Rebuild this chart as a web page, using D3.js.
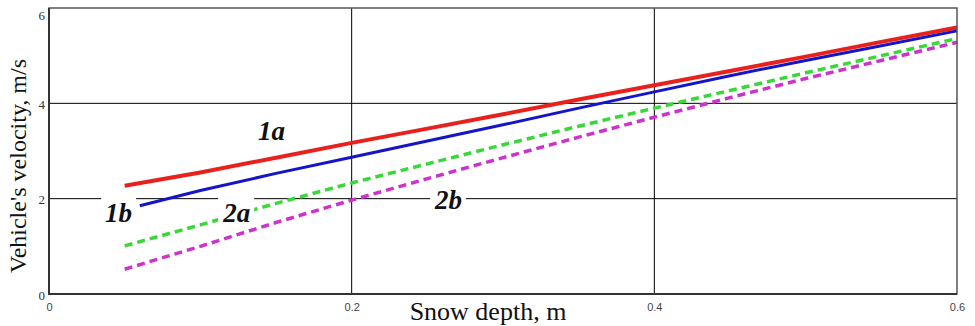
<!DOCTYPE html>
<html>
<head>
    <meta charset="utf-8" />
    <script src="https://cdn.jsdelivr.net/npm/d3@7/dist/d3.min.js"></script>
    <style>
        body { margin: 0; background: #fff; }
        .tick-label text { font-family: "Liberation Serif", serif; font-size: 13px; fill: #333; }
        .x-ticks text { font-family: "Liberation Sans", sans-serif; font-size: 11px; fill: #444; }
        .title { font-family: "Liberation Serif", serif; font-size: 24px; fill: #111; }
        .curve-label { font-family: "Liberation Serif", serif; font-size: 27px; font-weight: bold; font-style: italic; fill: #111; }
    </style>
</head>
<body>
<div id="vis"></div>
<script>
    // snow depth, m
    var depth = [0.05, 0.1, 0.15, 0.2, 0.25, 0.3, 0.35, 0.4, 0.45, 0.5, 0.55, 0.6];
    var depth1b = [0.06, 0.1, 0.15, 0.2, 0.25, 0.3, 0.35, 0.4, 0.45, 0.5, 0.55, 0.6];

    // vehicle's velocity, m/s
    var speed1a = [2.27, 2.55, 2.86, 3.17, 3.47, 3.77, 4.08, 4.38, 4.68, 4.98, 5.29, 5.59];
    var speed1b = [1.85, 2.17, 2.53, 2.87, 3.21, 3.55, 3.90, 4.24, 4.58, 4.90, 5.21, 5.52];
    var speed2a = [1.01, 1.45, 1.90, 2.33, 2.73, 3.13, 3.52, 3.90, 4.27, 4.64, 5.00, 5.36];
    var speed2b = [0.52, 1.00, 1.50, 1.97, 2.42, 2.86, 3.29, 3.71, 4.12, 4.52, 4.90, 5.28];

    var xTicks = [0, 0.2, 0.4, 0.6];
    var yTicks = [0, 2, 4, 6];
    var xGrid = [0.2, 0.4];
    var yGrid = [2, 4];

    var labelNames = ["1a", "1b", "2a", "2b"];
    var labelDepth = [0.147, 0.046, 0.124, 0.264];
    var labelSpeed = [3.42, 1.70, 1.70, 1.97];

    var width = 975,
        height = 326;

    var margin = { left: 49, right: 18, top: 8, bottom: 32 };

    var x = d3.scaleLinear()
        .domain([0, 0.6])
        .range([margin.left, width - margin.right]);

    var y = d3.scaleLinear()
        .domain([0, 6])
        .range([height - margin.bottom, margin.top]);

    var svg = d3.select("#vis").append("svg")
        .attr("width", width)
        .attr("height", height);

    // grid
    svg.append("g")
        .selectAll("line")
        .data(xGrid)
        .enter().append("line")
        .attr("x1", function(d) { return x(d); })
        .attr("x2", function(d) { return x(d); })
        .attr("y1", y(0))
        .attr("y2", y(6))
        .attr("stroke", "#000")
        .attr("stroke-width", 1);

    svg.append("g")
        .selectAll("line")
        .data(yGrid)
        .enter().append("line")
        .attr("x1", x(0))
        .attr("x2", x(0.6))
        .attr("y1", function(d) { return y(d); })
        .attr("y2", function(d) { return y(d); })
        .attr("stroke", "#000")
        .attr("stroke-width", 1);

    // curves
    var series = [
        { xs: depth, ys: speed1a, color: "#e8211c", w: 4, dash: null },
        { xs: depth1b, ys: speed1b, color: "#1414c8", w: 3, dash: null },
        { xs: depth, ys: speed2a, color: "#36d936", w: 3.5, dash: "8,5" },
        { xs: depth, ys: speed2b, color: "#cc33cc", w: 3.5, dash: "8,5" }
    ];

    var line = d3.line()
        .x(function(d) { return x(d[0]); })
        .y(function(d) { return y(d[1]); });

    svg.append("g")
        .selectAll("path")
        .data(series)
        .enter().append("path")
        .attr("d", function(s) { return line(d3.zip(s.xs, s.ys)); })
        .attr("fill", "none")
        .attr("stroke", function(s) { return s.color; })
        .attr("stroke-width", function(s) { return s.w; })
        .attr("stroke-dasharray", function(s) { return s.dash; });

    // curve labels with white background
    var labels = svg.append("g")
        .selectAll("g")
        .data(labelNames)
        .enter().append("g")
        .attr("transform", function(d, i) {
            return "translate(" + x(labelDepth[i]) + "," + y(labelSpeed[i]) + ")";
        });

    labels.append("text")
        .attr("class", "curve-label")
        .attr("text-anchor", "middle")
        .attr("dy", "0.33em")
        .text(function(d) { return d; });

    labels.each(function() {
        var g = d3.select(this);
        var b = g.select("text").node().getBBox();
        g.insert("rect", "text")
            .attr("x", b.x - 4)
            .attr("y", b.y)
            .attr("width", b.width + 8)
            .attr("height", b.height)
            .attr("fill", "#fff");
    });

    // frame
    svg.append("rect")
        .attr("x", x(0))
        .attr("y", y(6))
        .attr("width", x(0.6) - x(0))
        .attr("height", y(0) - y(6))
        .attr("fill", "none")
        .attr("stroke", "#555")
        .attr("stroke-width", 1.5);

    svg.append("path")
        .attr("d", "M" + x(0) + "," + y(6) + "V" + y(0) + "H" + x(0.6))
        .attr("fill", "none")
        .attr("stroke", "#333")
        .attr("stroke-width", 2);

    // tick labels
    var xAxis = svg.append("g")
        .attr("class", "tick-label x-ticks")
        .attr("transform", "translate(0," + y(0) + ")")
        .call(d3.axisBottom(x)
            .tickValues(xTicks)
            .tickSize(0)
            .tickPadding(9)
            .tickFormat(function(d) { return d === 0 ? "0" : d.toFixed(1); }));
    xAxis.select(".domain").remove();
    xAxis.selectAll("text").attr("font-family", null).attr("font-size", null);

    var yAxis = svg.append("g")
        .attr("class", "tick-label")
        .attr("transform", "translate(" + x(0) + ",0)")
        .call(d3.axisLeft(y)
            .tickValues(yTicks)
            .tickSize(0)
            .tickPadding(4)
            .tickFormat(d3.format("d")));
    yAxis.select(".domain").remove();
    yAxis.selectAll("text")
        .attr("font-family", null)
        .attr("font-size", null)
        .attr("y", function(d) { return d === 6 ? 7 : 1; });

    // axis titles
    svg.append("text")
        .attr("class", "title")
        .attr("text-anchor", "middle")
        .attr("x", 488)
        .attr("y", 320)
        .style("font-size", "26px")
        .text("Snow depth, m");

    svg.append("text")
        .attr("class", "title")
        .attr("text-anchor", "middle")
        .attr("transform", "translate(26," + 166 + ") rotate(-90)")
        .text("Vehicle's velocity, m/s");
</script>
</body>
</html>
